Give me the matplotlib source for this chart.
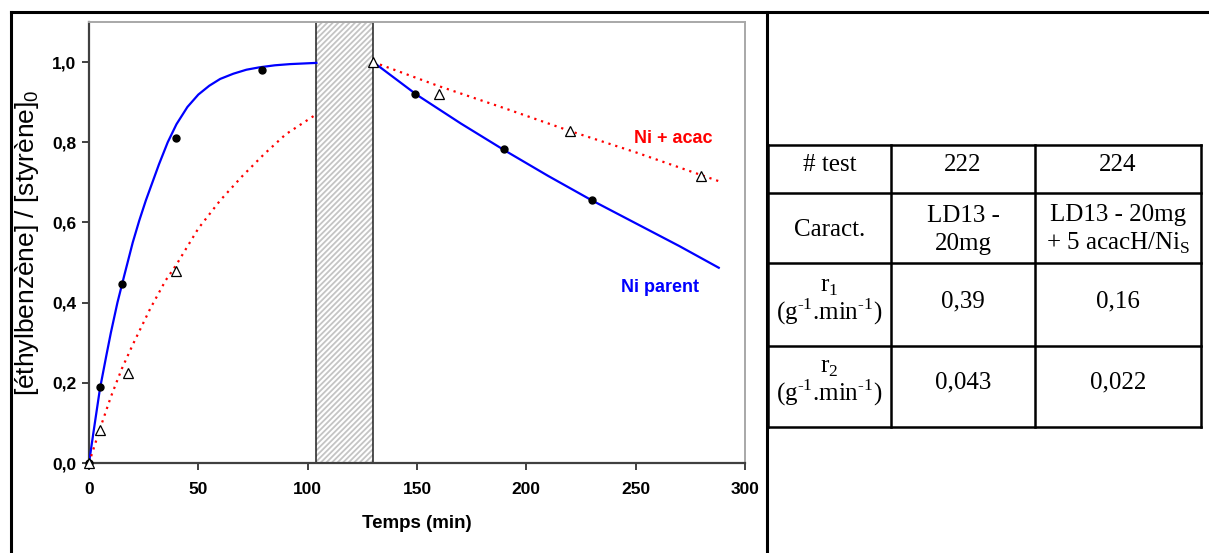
"""
Ethylbenzene / styrene conversion vs time, Ni parent vs Ni + acac,
with the summary table of rates on the right.
"""

import matplotlib
matplotlib.use("Agg")
import matplotlib.pyplot as plt
from matplotlib.lines import Line2D

plt.rcParams['font.family'] = ['Liberation Sans', 'DejaVu Sans']
plt.rcParams['hatch.linewidth'] = 1.3

# measured points
time_parent = [0, 5, 15, 40, 79, 149, 190, 230]
conv_parent = [0.0, 0.19, 0.446, 0.81, 0.98, 0.92, 0.782, 0.655]
time_acac = [0, 5, 18, 40, 130, 160, 220, 280]
conv_acac = [0.0, 0.083, 0.224, 0.48, 1.0, 0.92, 0.827, 0.716]

# fitted curves, before and after the interruption
fit_parent_t1 = [0, 2, 5, 8, 10, 13, 16, 20, 23, 26, 29, 32, 36, 40, 45, 50, 55,
                 60, 66, 72, 78, 85, 92, 104]
fit_parent_v1 = [0.0, 0.075, 0.185, 0.27, 0.325, 0.4, 0.465, 0.55, 0.605, 0.655,
                 0.7, 0.745, 0.8, 0.845, 0.888, 0.919, 0.941, 0.958, 0.971,
                 0.981, 0.987, 0.992, 0.995, 0.998]
fit_parent_t2 = [130, 150, 170, 190, 210, 230, 250, 270, 288]
fit_parent_v2 = [1.0, 0.918, 0.847, 0.78, 0.716, 0.655, 0.598, 0.541, 0.487]

fit_acac_t1 = [0, 5, 10, 15, 20, 28, 35, 40, 50, 60, 70, 80, 90, 104]
fit_acac_v1 = [0.0, 0.085, 0.165, 0.235, 0.295, 0.385, 0.455, 0.495, 0.585,
               0.655, 0.715, 0.77, 0.82, 0.87]
fit_acac_t2 = [130, 160, 190, 220, 250, 288]
fit_acac_v2 = [1.0, 0.94, 0.885, 0.828, 0.775, 0.703]

# interruption period (hatched)
gap_start, gap_end = 104, 130

x_ticks = [0, 50, 100, 150, 200, 250, 300]
y_ticks = [0.0, 0.2, 0.4, 0.6, 0.8, 1.0]
y_ticklabels = ['0,0', '0,2', '0,4', '0,6', '0,8', '1,0']

# table contents (hyphen U+2010 in the exponents, as in the original)
unit = '(g$^\\mathregular{\u20101}$.min$^\\mathregular{\u20101}$)'
table_rows = [
    ['# test', '222', '224'],
    ['Caract.', 'LD13 -\n20mg', 'LD13 - 20mg\n+ 5 acacH/Ni$_\\mathregular{S}$'],
    ['r$_\\mathregular{1}$\n' + unit, '0,39', '0,16'],
    ['r$_\\mathregular{2}$\n' + unit, '0,043', '0,022'],
]

W, H = 1209, 553
fig = plt.figure(figsize=(W / 100, H / 100), dpi=100)

# ---- chart
ax = fig.add_axes([89 / W, 1 - 463 / H, 656 / W, 441 / H])

ax.axvspan(gap_start, gap_end, facecolor='white', edgecolor='#c4c4c4',
           hatch='//////', lw=0, zorder=1)
ax.axvspan(gap_start, gap_end, fill=False, edgecolor='#202020', lw=1.1, zorder=2)

ax.plot(fit_parent_t1, fit_parent_v1, color='#0000ff', lw=1.6, zorder=3)
ax.plot(fit_parent_t2, fit_parent_v2, color='#0000ff', lw=1.6, zorder=3)
ax.plot(fit_acac_t1, fit_acac_v1, color='#ff0000', lw=1.6, ls=(0, (1, 2.2)), zorder=3)
ax.plot(fit_acac_t2, fit_acac_v2, color='#ff0000', lw=1.6, ls=(0, (1, 2.2)), zorder=3)

ax.plot(time_parent, conv_parent, 'o', color='black', ms=5, zorder=5, clip_on=False)
ax.plot(time_acac, conv_acac, '^', mfc='white', mec='black', mew=0.9, ms=6.5,
        zorder=6, clip_on=False)

ax.text(267, 0.81, 'Ni + acac', color='#ff0000', fontsize=13, fontweight='bold',
        ha='center', va='center')
ax.text(261, 0.437, 'Ni parent', color='#0000ff', fontsize=13, fontweight='bold',
        ha='center', va='center')

ax.set_xlim(0, 300)
ax.set_ylim(0, 1.1)
ax.set_xticks(x_ticks)
ax.set_yticks(y_ticks)
ax.set_yticklabels(y_ticklabels)
for lab in ax.get_xticklabels() + ax.get_yticklabels():
    lab.set_fontweight('bold')
ax.tick_params(axis='both', direction='out', length=5, width=1.4, color='#404040',
               labelsize=12.5)
ax.tick_params(axis='x', pad=9)
ax.tick_params(axis='y', pad=4)

for side in ['left', 'bottom']:
    ax.spines[side].set_color('#404040')
    ax.spines[side].set_linewidth(1.6)
for side in ['top', 'right']:
    ax.spines[side].set_color('#a8a8a8')
    ax.spines[side].set_linewidth(1.4)

ax.set_xlabel('Temps (min)', fontsize=13.5, fontweight='bold', labelpad=13)
ax.set_ylabel('[éthylbenzène] / [styrène]$_\\mathregular{0}$', fontsize=19, labelpad=8)

# ---- outer frame and divider
frame_lw = 2.2
fig.add_artist(Line2D([11 / W, 1.0], [1 - 12 / H, 1 - 12 / H], color='black',
                      lw=frame_lw, transform=fig.transFigure))
fig.add_artist(Line2D([11 / W, 11 / W], [0, 1 - 12 / H], color='black',
                      lw=frame_lw, transform=fig.transFigure))
fig.add_artist(Line2D([767 / W, 767 / W], [0, 1 - 12 / H], color='black',
                      lw=frame_lw, transform=fig.transFigure))

# ---- table
col_edges = [768, 891, 1035, 1201]
row_edges = [145, 193, 263, 346, 427]
tab = fig.add_axes([col_edges[0] / W, 1 - row_edges[-1] / H,
                    (col_edges[-1] - col_edges[0]) / W,
                    (row_edges[-1] - row_edges[0]) / H])
tab.set_xlim(col_edges[0], col_edges[-1])
tab.set_ylim(row_edges[-1], row_edges[0])
tab.axis('off')
for x in col_edges:
    tab.plot([x, x], [row_edges[0], row_edges[-1]], color='black', lw=1.8,
             solid_capstyle='projecting', clip_on=False)
for y in row_edges:
    tab.plot([col_edges[0], col_edges[-1]], [y, y], color='black', lw=1.8,
             solid_capstyle='projecting', clip_on=False)

row_offsets = [-4, 2, -3, -4]
row_spacing = [1.0, 1.3, 0.95, 0.95]
for i, row in enumerate(table_rows):
    yc = (row_edges[i] + row_edges[i + 1]) / 2 + row_offsets[i]
    for j, txt in enumerate(row):
        xc = (col_edges[j] + col_edges[j + 1]) / 2
        tab.text(xc, yc, txt, ha='center', va='center', fontsize=18,
                 family=['Liberation Serif', 'DejaVu Serif'],
                 linespacing=row_spacing[i])

fig.savefig('out.png', dpi=100)
